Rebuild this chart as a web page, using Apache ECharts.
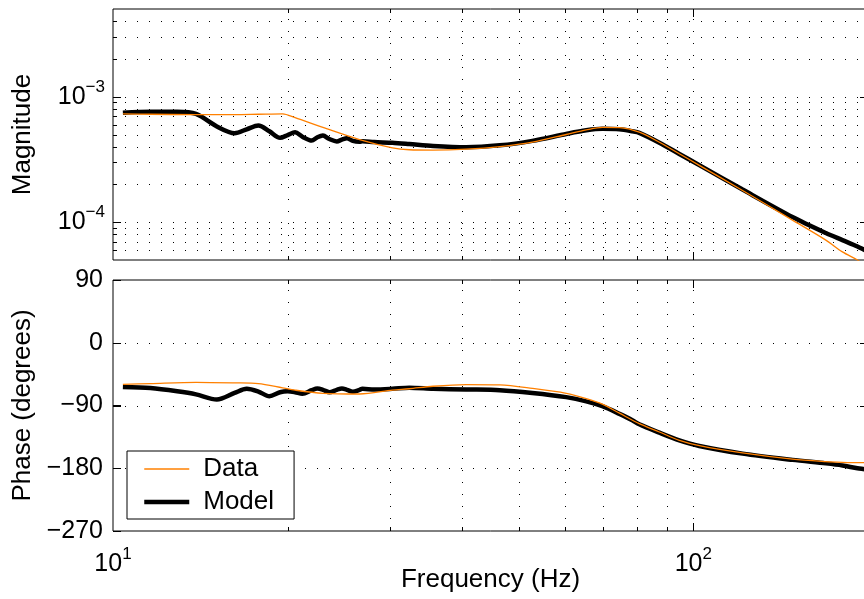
<!DOCTYPE html>
<html>
<head>
<meta charset="utf-8">
<script src="https://cdn.jsdelivr.net/npm/echarts@6/dist/echarts.min.js"></script>
<style>
html, body { margin: 0; padding: 0; background: #fff; overflow: hidden; }
#main { width: 874px; height: 599px; }
</style>
</head>
<body>
<div id="main"></div>
<script>
// measured frequency response (orange)
var freqData = [10.4, 11.6, 13.9, 16.2, 17.8, 19.6, 20.6, 23.0, 26.6, 30.3, 32.4, 35.6, 40.6, 46.4, 52.8,
    60.4, 65.4, 69.7, 74.6, 80.7, 87.4, 94.6, 102.4, 121.6, 148.2, 169.2, 180.7, 191.8, 200];
var magData = [7.3e-4, 7.25e-4, 7.2e-4, 7.2e-4, 7.25e-4, 7.3e-4, 6.8e-4, 5.7e-4, 4.56e-4, 3.92e-4, 3.78e-4,
    3.76e-4, 3.82e-4, 4.0e-4, 4.34e-4, 5.0e-4, 5.44e-4, 5.7e-4, 5.68e-4, 5.22e-4, 4.34e-4, 3.51e-4, 2.84e-4,
    1.79e-4, 1.04e-4, 7.2e-5, 5.8e-5, 5.0e-5, 4.4e-5];
var phaseData = [-59.6, -58.5, -56.7, -57.5, -58.5, -64.7, -68, -72.5, -73.5, -68, -66, -62.4, -60, -60.5, -65.5,
    -72.5, -80, -88, -101, -116, -128, -140, -147.5, -158, -167, -170.5, -171.5, -172, -172];

// model (black)
var freqModel = [10.4, 11.6, 12.9, 13.9, 15.1, 16.2, 17.0, 17.8, 18.6, 19.4, 20.0, 20.6, 21.2, 22.0, 22.5,
    23.0, 23.6, 24.3, 24.8, 25.3, 25.9, 26.6, 26.9, 28.2, 30.3, 32.4, 35.6, 40.6, 46.4, 52.8, 60.4, 65.4,
    69.7, 74.6, 78.5, 80.7, 87.4, 94.6, 102.4, 121.6, 148.2, 169.2, 180.7, 191.8, 200];
var magModel = [7.45e-4, 7.6e-4, 7.6e-4, 7.3e-4, 5.8e-4, 5.12e-4, 5.5e-4, 5.89e-4, 5.3e-4, 4.7e-4, 4.95e-4,
    5.2e-4, 4.8e-4, 4.47e-4, 4.75e-4, 4.9e-4, 4.6e-4, 4.4e-4, 4.55e-4, 4.67e-4, 4.45e-4, 4.38e-4, 4.42e-4,
    4.35e-4, 4.3e-4, 4.2e-4, 4.05e-4, 3.96e-4, 4.1e-4, 4.45e-4, 5.05e-4, 5.4e-4, 5.55e-4, 5.5e-4, 5.3e-4,
    5.15e-4, 4.3e-4, 3.5e-4, 2.85e-4, 1.82e-4, 1.1e-4, 8.2e-5, 7.2e-5, 6.4e-5, 5.8e-5];
var phaseModel = [-63.3, -65, -69.6, -74, -81.4, -72, -66.1, -70, -76.7, -71, -69.6, -71, -73.3, -68, -65.7,
    -67.5, -71, -67.5, -65.7, -67.5, -70.4, -67.5, -66.1, -67, -66, -64.5, -66, -67, -68, -72, -78, -84,
    -91, -102, -111, -117, -129, -140, -148, -159, -168, -173, -176, -180, -182];

// axes
var xMin = 10, xMax = 200;
var magMin = 5e-5, magMax = 5e-3;
var phaseMin = -270, phaseMax = 90, phaseStep = 90;
var xGridVals = [20, 30, 40, 50, 60, 70, 80, 90, 100];
var magGridVals = [6e-5, 7e-5, 8e-5, 9e-5, 1e-4, 2e-4, 3e-4, 4e-4, 5e-4, 6e-4, 7e-4, 8e-4, 9e-4,
    1e-3, 2e-3, 3e-3, 4e-3];
var phaseGridVals = [-180, -90, 0];

var font = "'Liberation Sans', Arial, Helvetica, sans-serif";
var orange = '#ff8000';

function zip(a, b) { return a.map(function (v, i) { return [v, b[i]]; }); }
function isDecade(v) { var l = Math.log10(v); return Math.abs(l - Math.round(l)) < 1e-6; }
function minus(s) { return String(s).replace('-', '\u2212'); }
function powLabel(v) { return '{b|10}{s|' + minus(Math.round(Math.log10(v))) + '}'; }
var powRich = {
    b: { fontSize: 25, fontFamily: font, color: '#000', lineHeight: 36 },
    s: { fontSize: 17, fontFamily: font, color: '#000', lineHeight: 17, verticalAlign: 'top' }
};

function crisp(v) { return Math.round(v) + 0.5; }
var dots = { stroke: '#000', lineWidth: 1, lineDash: [1, 11] };
var solid = { stroke: '#000', lineWidth: 1 };

// dotted vertical grid + ticks at top/bottom
function vLines(yLo, yHi) {
    return function (params, api) {
        var x = api.value(0);
        var a = api.coord([x, yLo]), b = api.coord([x, yHi]);
        var px = crisp(a[0]), t = isDecade(x) ? 8 : 4;
        return { type: 'group', children: [
            { type: 'line', shape: { x1: px, y1: a[1], x2: px, y2: b[1] }, style: dots },
            { type: 'line', shape: { x1: px, y1: a[1], x2: px, y2: a[1] - t }, style: solid },
            { type: 'line', shape: { x1: px, y1: b[1], x2: px, y2: b[1] + t }, style: solid }
        ] };
    };
}
// dotted horizontal grid + ticks at left/right
function hLines(logAxis) {
    return function (params, api) {
        var y = api.value(1);
        var a = api.coord([xMin, y]), b = api.coord([xMax, y]);
        var py = crisp(a[1]), t = (!logAxis || isDecade(y)) ? 8 : 4;
        return { type: 'group', children: [
            { type: 'line', shape: { x1: a[0], y1: py, x2: b[0], y2: py }, style: dots },
            { type: 'line', shape: { x1: a[0], y1: py, x2: a[0] + t, y2: py }, style: solid },
            { type: 'line', shape: { x1: b[0], y1: py, x2: b[0] - t, y2: py }, style: solid }
        ] };
    };
}

var nameStyle = { fontSize: 26, fontFamily: font, color: '#000' };

function logX(idx, labels) {
    return {
        type: 'log', logBase: 10, gridIndex: idx, min: xMin, max: xMax,
        axisLine: { show: false }, axisTick: { show: false }, splitLine: { show: false },
        axisLabel: { show: labels, formatter: powLabel, rich: powRich, margin: 15,
            showMinLabel: true, showMaxLabel: false },
        name: labels ? 'Frequency (Hz)' : '', nameLocation: 'middle', nameGap: 36,
        nameMoveOverlap: false, nameTextStyle: nameStyle
    };
}

var myChart = echarts.init(document.getElementById('main'));
myChart.setOption({
    backgroundColor: '#fff',
    animation: false,
    grid: [
        { left: 113, top: 9, width: 755, height: 251, show: true, borderColor: '#000', borderWidth: 1,
            backgroundColor: 'transparent' },
        { left: 113, top: 280, width: 755, height: 251, show: true, borderColor: '#000', borderWidth: 1,
            backgroundColor: 'transparent' }
    ],
    xAxis: [logX(0, false), logX(1, true)],
    yAxis: [
        {
            type: 'log', logBase: 10, gridIndex: 0, min: magMin, max: magMax,
            axisLine: { show: false }, axisTick: { show: false }, splitLine: { show: false },
            axisLabel: { formatter: powLabel, rich: powRich, margin: 8, showMinLabel: false, showMaxLabel: false },
            name: 'Magnitude', nameLocation: 'middle', nameGap: 77, nameMoveOverlap: false,
            nameTextStyle: nameStyle
        },
        {
            type: 'value', gridIndex: 1, min: phaseMin, max: phaseMax, interval: phaseStep,
            axisLine: { show: false }, axisTick: { show: true, inside: true, length: 8, lineStyle: { color: '#000' } },
            splitLine: { show: false },
            axisLabel: { formatter: minus, fontSize: 25, fontFamily: font, color: '#000', margin: 10 },
            name: 'Phase (degrees)', nameLocation: 'middle', nameGap: 77, nameMoveOverlap: false,
            nameTextStyle: nameStyle
        }
    ],
    legend: {
        data: [
            { name: 'Data', lineStyle: { width: 1.3 } },
            { name: 'Model', lineStyle: { width: 4.5 } }
        ],
        orient: 'vertical', left: 127, top: 451,
        backgroundColor: '#fff', borderColor: '#000', borderWidth: 1, borderRadius: 0,
        padding: [5, 20, 4, 15], itemWidth: 45, itemHeight: 26, itemGap: 7,
        itemStyle: { opacity: 0 },
        formatter: function (name) { return '{t|' + name + '}'; },
        textStyle: { rich: { t: { fontSize: 26, fontFamily: font, color: '#000', padding: [0, 0, 0, 9] } } }
    },
    series: [
        { type: 'custom', xAxisIndex: 0, yAxisIndex: 0, silent: true, z: 1,
            data: xGridVals.map(function (v) { return [v, magMin]; }), renderItem: vLines(magMin, magMax) },
        { type: 'custom', xAxisIndex: 0, yAxisIndex: 0, silent: true, z: 1,
            data: magGridVals.map(function (v) { return [xMin, v]; }), renderItem: hLines(true) },
        { type: 'custom', xAxisIndex: 1, yAxisIndex: 1, silent: true, z: 1,
            data: xGridVals.map(function (v) { return [v, phaseMin]; }), renderItem: vLines(phaseMin, phaseMax) },
        { type: 'custom', xAxisIndex: 1, yAxisIndex: 1, silent: true, z: 1,
            data: phaseGridVals.map(function (v) { return [xMin, v]; }), renderItem: hLines(false) },
        { name: 'Model', type: 'line', xAxisIndex: 0, yAxisIndex: 0, data: zip(freqModel, magModel),
            symbol: 'none', smooth: 0.3, z: 3, itemStyle: { color: '#000' }, lineStyle: { color: '#000', width: 4.5 } },
        { name: 'Data', type: 'line', xAxisIndex: 0, yAxisIndex: 0, data: zip(freqData, magData),
            symbol: 'none', smooth: 0.3, z: 4, itemStyle: { color: orange }, lineStyle: { color: orange, width: 1.3 } },
        { name: 'Model', type: 'line', xAxisIndex: 1, yAxisIndex: 1, data: zip(freqModel, phaseModel),
            symbol: 'none', smooth: 0.3, z: 3, itemStyle: { color: '#000' }, lineStyle: { color: '#000', width: 4.5 } },
        { name: 'Data', type: 'line', xAxisIndex: 1, yAxisIndex: 1, data: zip(freqData, phaseData),
            symbol: 'none', smooth: 0.3, z: 4, itemStyle: { color: orange }, lineStyle: { color: orange, width: 1.3 } }
    ]
});
</script>
</body>
</html>
